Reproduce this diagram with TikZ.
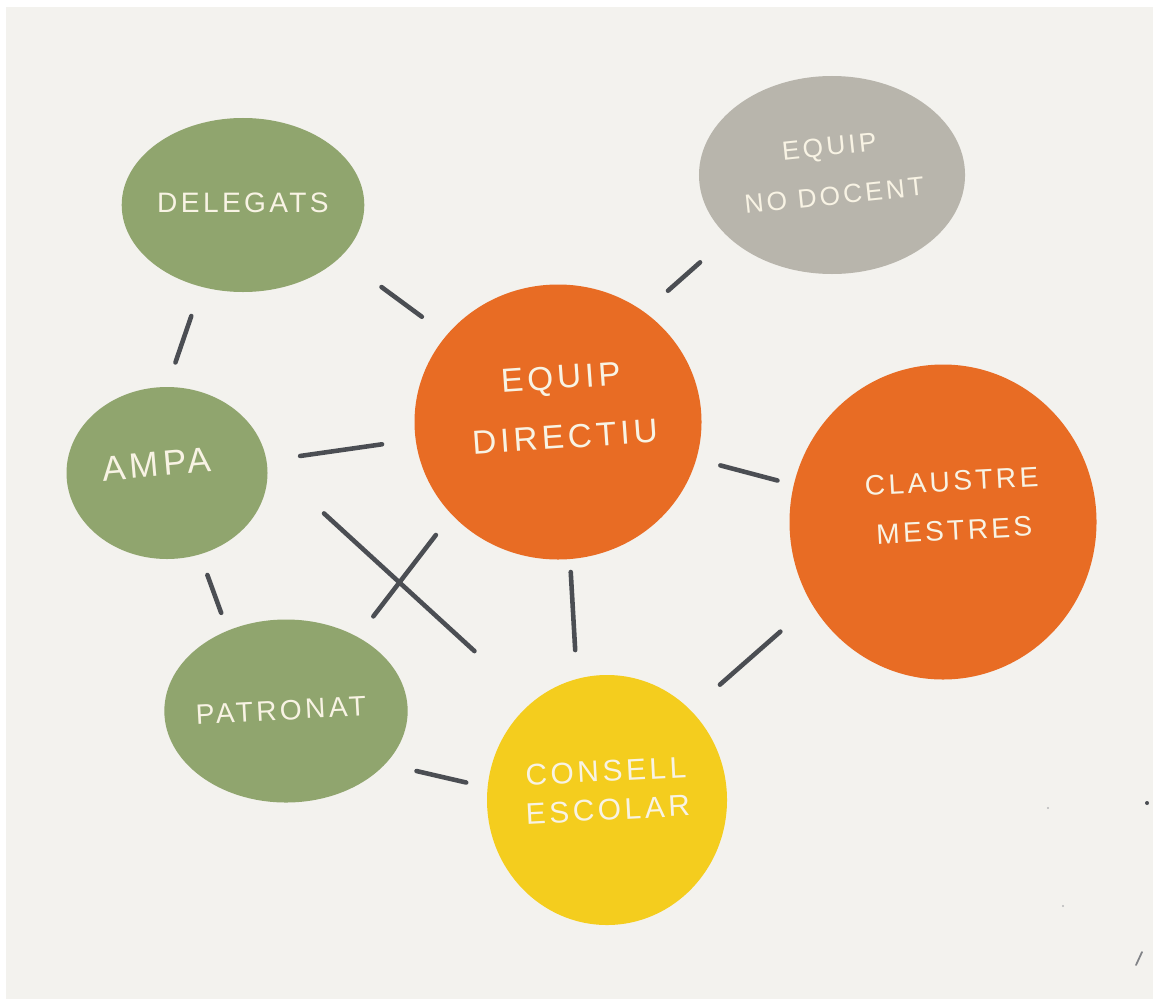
\documentclass[tikz,border=0pt]{standalone}
\usepackage{fontspec}
\usepackage{graphicx}
\usepackage{tikz}
\usetikzlibrary{shapes.geometric, positioning}
\newfontfamily\handfont[LetterSpace=12]{Liberation Sans}
\definecolor{bgpaper}{HTML}{F3F2EE}
\definecolor{sage}{HTML}{90A56E}
\definecolor{stone}{HTML}{B8B5AC}
\definecolor{tangerine}{HTML}{E86C24}
\definecolor{sun}{HTML}{F4CD1E}
\definecolor{chalk}{HTML}{F8F3E4}
\definecolor{pencil}{HTML}{4B4E53}
% #1 x offset, #2 y offset, #3 tilt, #4 text
\newcommand{\lbl}[4]{\hspace*{#1}\raisebox{#2}[\height][\depth]{\rotatebox{#3}{\begin{tabular}{@{}c@{}}#4\end{tabular}}}\hspace*{-#1}}
\tikzstyle{blob} = [ellipse, inner sep=0pt, outer sep=0pt, text=chalk, font=\handfont]
\tikzstyle{conn} = [line width=1.3pt, draw=pencil, line cap=round]

\begin{document}
\begin{tikzpicture}
\useasboundingbox (0,0) rectangle (11.53,-9.99);
\fill[white] (0,0) rectangle (11.53,-9.99);
\fill[bgpaper] (0.06,-0.07) rectangle (11.53,-9.99);
\node[blob,fill=tangerine,minimum width=2.87cm,minimum height=2.75cm] (directiu) at (5.58,-4.22)
          {\fontsize{9.5}{15}\selectfont\lbl{0.05cm}{0.14cm}{4}{EQUIP\\[2pt] DIRECTIU}};
\node[blob,fill=sage,minimum width=2.13cm,minimum height=1.74cm] (delegats) at (directiu) [xshift=-3.15cm,yshift=2.17cm]
          {\fontsize{8}{10}\selectfont\lbl{0cm}{0cm}{0}{DELEGATS}};
\node[blob,fill=stone,minimum width=2.32cm,minimum height=1.98cm] (nodocent) at (directiu) [xshift=2.74cm,yshift=2.47cm]
          {\fontsize{7.5}{10}\selectfont\lbl{0cm}{0.02cm}{6}{EQUIP\\[4pt] NO DOCENT}};
\node[blob,fill=sage,minimum width=2.01cm,minimum height=1.72cm] (ampa) at (delegats) [xshift=-0.76cm,yshift=-2.68cm]
          {\fontsize{10}{12}\selectfont\lbl{-0.1cm}{0.05cm}{5}{AMPA}};
\node[blob,fill=tangerine,minimum width=3.07cm,minimum height=3.15cm] (claustre) at (directiu) [xshift=3.85cm,yshift=-1.00cm]
          {\fontsize{8}{12}\selectfont\lbl{0.1cm}{0.15cm}{3}{CLAUSTRE\\[2pt] MESTRES}};
\node[blob,fill=sage,minimum width=2.28cm,minimum height=1.83cm] (patronat) at (ampa) [xshift=1.19cm,yshift=-2.38cm]
          {\fontsize{8}{10}\selectfont\lbl{-0.05cm}{-0.02cm}{3}{PATRONAT}};
\node[blob,fill=sun,minimum width=2.40cm,minimum height=2.50cm] (consell) at (directiu) [xshift=0.49cm,yshift=-3.78cm]
          {\fontsize{8.5}{11}\selectfont\lbl{0cm}{0.07cm}{3}{CONSELL\\ ESCOLAR}};
\draw[conn,shorten <=0.31cm,shorten >=0.26cm] (delegats.-117) -- (ampa.90);
\draw[conn,shorten <=0.51cm,shorten >=0.31cm] (delegats.-28) -- (directiu.142);
\draw[conn,shorten <=0.38cm,shorten >=0.32cm] (nodocent.-149) -- (directiu.52);
\draw[conn,shorten <=0.34cm,shorten >=0.34cm] (ampa.7) -- (directiu.-173);
\draw[conn,shorten <=0.25cm,shorten >=0.17cm] (directiu.-15) -- (claustre.166);
\draw[conn,shorten <=0.22cm,shorten >=0.19cm] (ampa.-68) -- (patronat.126);
\draw[conn,shorten <=0.78cm,shorten >=0.77cm] (ampa.7) -- (consell.128);
\draw[conn,shorten <=0.26cm,shorten >=0.26cm] (patronat.46) -- (directiu.-139);
\draw[conn,shorten <=0.13cm,shorten >=0.29cm] (directiu.-85) -- (consell.104);
\draw[conn,shorten <=0.42cm,shorten >=0.39cm] (claustre.-148) -- (consell.47);
\draw[conn,shorten <=0.32cm,shorten >=0.22cm] (patronat.-28) -- (consell.174);
% stray pencil marks
\fill[pencil] (11.47,-8.03) circle (0.02);
\fill[pencil!40] (10.48,-8.08) circle (0.012);
\fill[pencil!40] (10.63,-9.06) circle (0.012);
\draw[pencil!70,line width=0.5pt,line cap=round] (11.42,-9.52) -- (11.36,-9.65);
\end{tikzpicture}
\end{document}
